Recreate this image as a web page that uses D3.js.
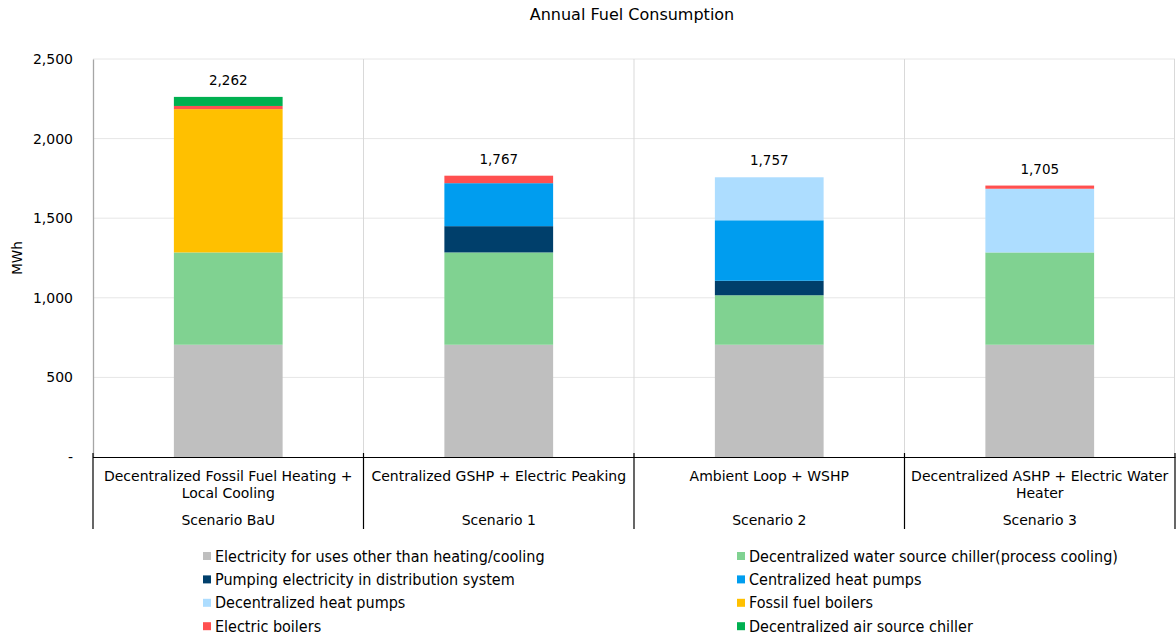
<!DOCTYPE html>
<html>
<head>
<meta charset="utf-8">
<script src="https://cdn.jsdelivr.net/npm/d3@7"></script>
<style>
  html, body { margin: 0; padding: 0; background: #fff; }
  svg { display: block; font-family: "DejaVu Sans", Verdana, sans-serif; }
</style>
</head>
<body>
<svg id="chart" width="1176" height="638"></svg>
<script>
// Scenarios (outer label) and their system descriptions (inner label)
const scenarios = ["Scenario BaU", "Scenario 1", "Scenario 2", "Scenario 3"];
const systems = [
  "Decentralized Fossil Fuel Heating + Local Cooling",
  "Centralized GSHP + Electric Peaking",
  "Ambient Loop + WSHP",
  "Decentralized ASHP + Electric Water Heater"
];

// Energy end-uses, stacked bottom to top (MWh per scenario)
const seriesNames = [
  "Electricity for uses other than heating/cooling",
  "Decentralized water source chiller(process cooling)",
  "Pumping electricity in distribution system",
  "Centralized heat pumps",
  "Decentralized heat pumps",
  "Fossil fuel boilers",
  "Electric boilers",
  "Decentralized air source chiller"
];
const otherElectricity   = [705, 705, 705, 705];
const waterSourceChiller = [580, 580, 311, 580];
const pumpingElectricity = [0, 165, 91, 0];
const centralHeatPumps   = [0, 270, 380, 0];
const localHeatPumps     = [0, 0, 270, 400];
const fossilBoilers      = [900, 0, 0, 0];
const electricBoilers    = [20, 47, 0, 20];
const airSourceChiller   = [57, 0, 0, 0];
const totals = [2262, 1767, 1757, 1705];

const yTicks = [0, 500, 1000, 1500, 2000, 2500];

const seriesValues = [otherElectricity, waterSourceChiller, pumpingElectricity,
  centralHeatPumps, localHeatPumps, fossilBoilers, electricBoilers, airSourceChiller];
const colors = ["#BFBFBF", "#80D291", "#003F6B", "#009DEF", "#ADDDFF", "#FFC000", "#FF5050", "#00B050"];

const rows = scenarios.map((s, i) => {
  const r = { scenario: s, system: systems[i], total: totals[i] };
  seriesNames.forEach((n, k) => r[n] = seriesValues[k][i]);
  return r;
});

const svg = d3.select("#chart");
const plotLeft = 93, plotRight = 1175, plotTop = 59, plotBottom = 457;

const x = d3.scaleBand().domain(scenarios).range([plotLeft, plotRight]).padding(0);
const y = d3.scaleLinear().domain([0, 2500]).range([plotBottom, plotTop]);
const barW = x.bandwidth() * 0.402;

// Title
svg.append("text")
  .attr("x", 632).attr("y", 20)
  .attr("text-anchor", "middle")
  .attr("font-size", 16).attr("fill", "#000")
  .text("Annual Fuel Consumption");

// Horizontal gridlines
svg.append("g").selectAll("line").data(yTicks.filter(d => d > 0)).join("line")
  .attr("x1", plotLeft).attr("x2", plotRight)
  .attr("y1", d => y(d)).attr("y2", d => y(d))
  .attr("stroke", "#E6E6E6").attr("stroke-width", 1);

// Vertical separators between scenarios inside the plot
svg.append("g").selectAll("line").data(scenarios.slice(1).map(s => x(s)).concat([plotRight - 0.5])).join("line")
  .attr("x1", d => d).attr("x2", d => d)
  .attr("y1", plotTop).attr("y2", plotBottom)
  .attr("stroke", "#D9D9D9").attr("stroke-width", 1);

// Y axis
const yAxis = d3.axisLeft(y).tickValues(yTicks).tickSize(0).tickPadding(20)
  .tickFormat(d => d === 0 ? "-" : d3.format(",")(d));
const gy = svg.append("g").attr("transform", `translate(${plotLeft},0)`).call(yAxis);
gy.select(".domain").attr("stroke", "#A6A6A6").attr("stroke-width", 1.3);
gy.selectAll("text").attr("font-size", 14).attr("fill", "#000")
  .attr("font-family", "DejaVu Sans, Verdana, sans-serif");

svg.append("text")
  .attr("transform", `translate(22,${(plotTop + plotBottom) / 2}) rotate(-90)`)
  .attr("text-anchor", "middle").attr("font-size", 13.5)
  .text("MWh");

// Stacked bars
const stack = d3.stack().keys(seriesNames)(rows);
svg.append("g").selectAll("g").data(stack).join("g")
  .attr("fill", (d, i) => colors[i])
  .selectAll("rect").data(d => d).join("rect")
  .attr("x", d => x(d.data.scenario) + (x.bandwidth() - barW) / 2)
  .attr("width", barW)
  .attr("y", d => y(d[1]))
  .attr("height", d => Math.max(0, y(d[0]) - y(d[1])));

// Total labels
svg.append("g").selectAll("text").data(rows).join("text")
  .attr("x", d => x(d.scenario) + x.bandwidth() / 2)
  .attr("y", d => y(d.total) - 12)
  .attr("text-anchor", "middle").attr("font-size", 13.5)
  .text(d => d3.format(",")(d.total));

// X axis line and category separators
svg.append("line")
  .attr("x1", plotLeft).attr("x2", plotRight + 0.5)
  .attr("y1", plotBottom + 0.5).attr("y2", plotBottom + 0.5)
  .attr("stroke", "#000").attr("stroke-width", 1.2);
svg.append("g").selectAll("line").data(scenarios.map(s => x(s)).concat([plotRight])).join("line")
  .attr("x1", d => d).attr("x2", d => d)
  .attr("y1", plotBottom - 4).attr("y2", 529)
  .attr("stroke", "#000").attr("stroke-width", 1.2);

// Inner category labels, wrapped to the band width
function wrap(sel, width) {
  sel.each(function () {
    const t = d3.select(this);
    const words = t.text().split(/\s+/);
    const xPos = t.attr("x"), y0 = +t.attr("y");
    t.text(null);
    let line = [], lineNo = 0;
    let tspan = t.append("tspan").attr("x", xPos).attr("y", y0);
    for (const w of words) {
      line.push(w);
      tspan.text(line.join(" "));
      if (tspan.node().getComputedTextLength() > width && line.length > 1) {
        line.pop();
        tspan.text(line.join(" "));
        line = [w];
        lineNo++;
        tspan = t.append("tspan").attr("x", xPos).attr("y", y0 + lineNo * 17).text(w);
      }
    }
  });
}
svg.append("g").selectAll("text").data(rows).join("text")
  .attr("x", d => x(d.scenario) + x.bandwidth() / 2)
  .attr("y", 481)
  .attr("text-anchor", "middle").attr("font-size", 14)
  .text(d => d.system)
  .call(wrap, x.bandwidth() - 10);

svg.append("g").selectAll("text").data(rows).join("text")
  .attr("x", d => x(d.scenario) + x.bandwidth() / 2)
  .attr("y", 525)
  .attr("text-anchor", "middle").attr("font-size", 14)
  .text(d => d.scenario);

// Legend: two columns, row-major order
const legend = svg.append("g").selectAll("g").data(seriesNames).join("g")
  .attr("transform", (d, i) => `translate(${i % 2 === 0 ? 203 : 737},${556 + Math.floor(i / 2) * 23.4})`);
legend.append("rect")
  .attr("x", 0).attr("y", -4).attr("width", 8).attr("height", 8)
  .attr("fill", (d, i) => colors[i]);
legend.append("text")
  .attr("x", 12).attr("y", 5.5)
  .attr("font-size", 16)
  .attr("font-family", "DejaVu Sans Condensed, DejaVu Sans, sans-serif")
  .text(d => d);
</script>
</body>
</html>
